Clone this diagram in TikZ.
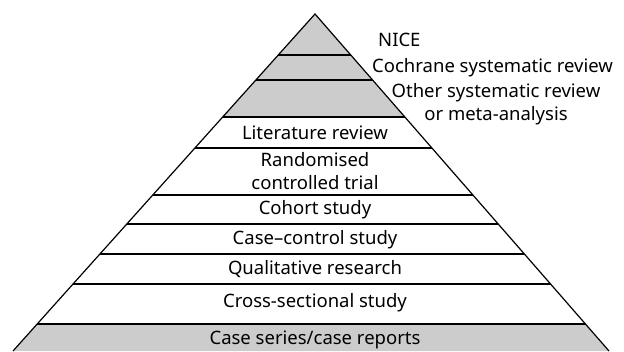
\documentclass[tikz,border=0pt]{standalone}
\usepackage{fontspec}
\setmainfont{Noto Sans}
\usetikzlibrary{positioning}

\tikzset{
  band/.style={fill=black!20},
  sep/.style={line width=1.2pt},
  lbl/.style={font=\fontsize{18.5}{23}\selectfont, align=center, inner sep=0pt}
}

\begin{document}
\begin{tikzpicture}[x=1pt,y=-1pt]
  \useasboundingbox (0,0) rectangle (624,351);
  \coordinate (apex) at (315,14);
  \coordinate (bl) at (13,351);
  \coordinate (br) at (609,351);

  \begin{scope}
    \clip (apex) -- (bl) -- (br) -- cycle;
    \fill [band] (0,0) rectangle (624,117);
    \fill [band] (0,324) rectangle (624,360);
    \foreach \y in {55,80,117,148,195,224,254,284,324}
      \draw [sep] (0,\y) -- (624,\y);
  \end{scope}
  \draw [sep] (bl) -- (apex) -- (br);

  \node [lbl, anchor=west] (nice) at (378,40) {NICE};
  \node [lbl, anchor=west] (cochrane) at (372,68) {Cochrane systematic review};
  \node [lbl] (other) at (496,104) {Other systematic review\\or meta-analysis};
  \node [lbl] (lit) at (315,133) {Literature review};
  \node [lbl] (rct) at (315,171) {Randomised\\controlled trial};
  \node [lbl] (cohort) at (315,210) {Cohort study};
  \node [lbl] (casectl) at (315,240) {Case--control study};
  \node [lbl] (qual) at (315,269) {Qualitative research};
  \node [lbl] (cross) at (315,303) {Cross-sectional study};
  \node [lbl] (series) at (315,340) {Case series/case reports};
\end{tikzpicture}
\end{document}
